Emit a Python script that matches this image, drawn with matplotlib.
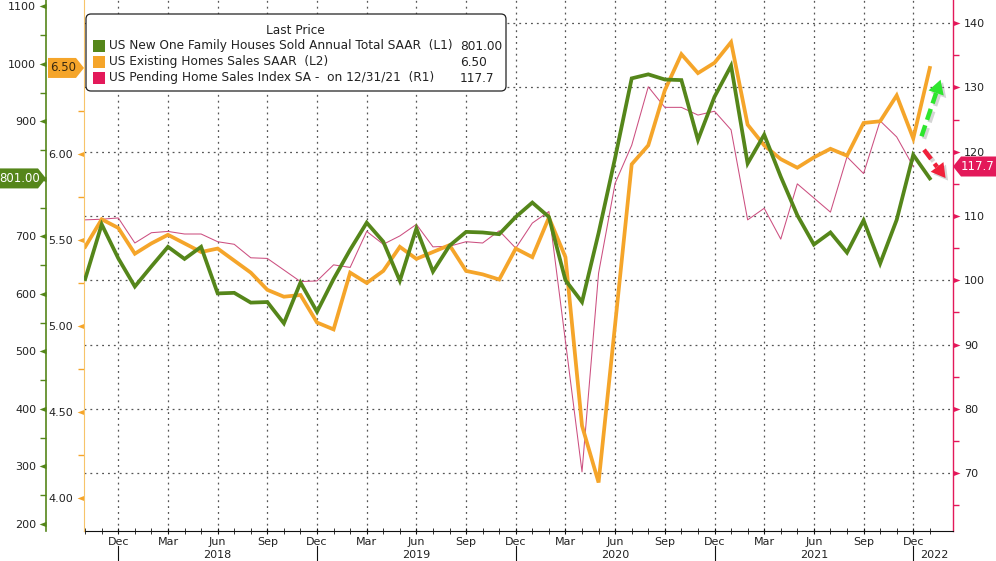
import numpy as np
import pandas as pd
import matplotlib
matplotlib.use("Agg")
import matplotlib.pyplot as plt
from matplotlib.path import Path
from matplotlib.patches import Polygon, FancyBboxPatch, Rectangle
from matplotlib.lines import Line2D
import matplotlib.transforms as mtransforms

# ---------------- data ----------------
months = pd.date_range("2017-10-01", periods=52, freq="MS")

new_home_sales = [626, 721, 662, 613, 648, 682, 661, 682, 601, 602, 585, 586,
                  549, 620, 569, 626, 677, 724, 691, 623, 714, 639, 684, 708,
                  707, 704, 734, 759, 734, 624, 586, 706, 837, 975, 982, 973,
                  972, 868, 943, 997, 827, 877, 804, 737, 686, 707, 672, 728,
                  653, 729, 842, 801]

existing_home_sales = [5.46, 5.62, 5.57, 5.42, 5.48, 5.53, 5.48, 5.43, 5.45, 5.38,
                       5.31, 5.21, 5.17, 5.18, 5.02, 4.98, 5.31, 5.25, 5.32, 5.46,
                       5.39, 5.43, 5.47, 5.32, 5.30, 5.27, 5.45, 5.40, 5.63, 5.40,
                       4.42, 4.09, 5.01, 5.94, 6.05, 6.37, 6.58, 6.47, 6.53, 6.65,
                       6.17, 6.05, 5.97, 5.92, 5.98, 6.03, 5.99, 6.18, 6.19, 6.34,
                       6.09, 6.50]

pending_home_sales = [109.4, 109.5, 109.7, 105.8, 107.4, 107.6, 107.2, 107.2, 106.0,
                      105.6, 103.5, 103.4, 101.6, 99.8, 99.9, 102.4, 102.0, 107.6,
                      105.6, 106.9, 108.7, 105.2, 105.3, 106.0, 105.8, 107.7, 105.0,
                      108.9, 110.7, 90.5, 70.2, 101.1, 115.1, 121.0, 130.1, 126.9,
                      126.9, 125.7, 126.3, 123.4, 109.4, 111.2, 106.4, 115.0, 112.8,
                      110.6, 119.2, 116.6, 124.8, 122.3, 117.7]

green_ticks = list(range(200, 1101, 100))
orange_ticks = [4.00, 4.50, 5.00, 5.50, 6.00]
pink_ticks = list(range(70, 141, 10))
month_names = {12: "Dec", 3: "Mar", 6: "Jun", 9: "Sep"}

legend_title = "Last Price"
legend_names = ["US New One Family Houses Sold Annual Total SAAR  (L1)",
                "US Existing Homes Sales SAAR  (L2)",
                "US Pending Home Sales Index SA -  on 12/31/21  (R1)"]
legend_values = ["801.00", "6.50", "117.7"]

# ---------------- style ----------------
GREEN = "#55861a"
ORANGE = "#f5a52a"
PINK = "#cc4f80"
RED = "#e3195a"
TXT = "#222222"
plt.rcParams["font.family"] = ["DejaVu Sans"]
plt.rcParams["font.size"] = 8

W, H = 996, 561
fig = plt.figure(figsize=(W / 100, H / 100), dpi=100, facecolor="white")
ax_p = fig.add_axes([84 / W, 30 / H, 869 / W, 531 / H])
ax_o = ax_p.twinx()
ax_g = ax_p.twinx()
ax_p.set_zorder(1)
ax_o.set_zorder(2)
ax_g.set_zorder(3)
for a in (ax_o, ax_g):
    a.patch.set_visible(False)

x = np.arange(len(months))
xp = np.arange(len(pending_home_sales))

ax_p.plot(xp, pending_home_sales, color=PINK, lw=0.75)
ax_o.plot(x, existing_home_sales, color=ORANGE, lw=2.7, solid_joinstyle="miter")
ax_g.plot(x, new_home_sales, color=GREEN, lw=2.7, solid_joinstyle="miter")

xmax = 52.4
ax_p.set_xlim(-0.07, xmax)
ax_p.set_ylim(61.0, 143.6)
ax_o.set_ylim(3.808, 6.895)
ax_g.set_ylim(187.8, 1111.3)

# spines
for s in ("top", "left"):
    ax_p.spines[s].set_visible(False)
ax_p.spines["right"].set_color(RED)
ax_p.spines["right"].set_linewidth(1.0)
ax_p.spines["bottom"].set_color("#111111")
for a in (ax_o, ax_g):
    for s in ("top", "right", "bottom"):
        a.spines[s].set_visible(False)
ax_o.spines["left"].set_color("#f7c46a")
ax_g.spines["left"].set_color(GREEN)
ax_g.spines["left"].set_linewidth(1.2)
g_off = -38 / 869
ax_g.spines["left"].set_position(("axes", g_off))

# y axes
ax_p.yaxis.tick_right()
ax_o.yaxis.tick_left()
ax_g.yaxis.tick_left()

ax_p.set_yticks(pink_ticks)
ax_p.set_yticks(np.arange(65, 141, 10), minor=True)
ax_o.set_yticks(orange_ticks)
ax_o.set_yticklabels([f"{v:.2f}" for v in orange_ticks])
ax_o.set_yticks(np.arange(4.25, 6.3, 0.5), minor=True)
ax_g.set_yticks(green_ticks)
# the 800 label sits under the last-value tag, as in the original
ax_g.set_yticklabels(["" if v == 800 else str(v) for v in green_ticks])
ax_g.set_yticks(np.arange(250, 1100, 100), minor=True)

ax_p.tick_params(axis="y", which="major", length=0, pad=8, labelsize=8, labelcolor=TXT)
ax_p.tick_params(axis="y", which="minor", length=4, color=RED, width=1)
ax_o.tick_params(axis="y", which="major", length=0, pad=8, labelsize=8, labelcolor=TXT)
ax_o.tick_params(axis="y", which="minor", length=4, color=ORANGE, width=1)
ax_g.tick_params(axis="y", which="major", length=0, pad=7, labelsize=8, labelcolor=TXT)
ax_g.tick_params(axis="y", which="minor", length=4, color=GREEN, width=1)

# triangle tick markers
left_tri = Path([(0, 0.38), (-1, 0), (0, -0.38), (0, 0.38)],
                [Path.MOVETO, Path.LINETO, Path.LINETO, Path.CLOSEPOLY])
right_tri = Path([(0, 0.38), (1, 0), (0, -0.38), (0, 0.38)],
                 [Path.MOVETO, Path.LINETO, Path.LINETO, Path.CLOSEPOLY])
tr_g = mtransforms.blended_transform_factory(ax_g.transAxes, ax_g.transData)
ax_g.plot([g_off] * len(green_ticks), green_ticks, ls="none", marker=left_tri,
          ms=10, color=GREEN, mec="none", transform=tr_g, clip_on=False)
tr_o = mtransforms.blended_transform_factory(ax_o.transAxes, ax_o.transData)
ax_o.plot([0] * len(orange_ticks), orange_ticks, ls="none", marker=left_tri,
          ms=10, color=ORANGE, mec="none", transform=tr_o, clip_on=False)
tr_p = mtransforms.blended_transform_factory(ax_p.transAxes, ax_p.transData)
ax_p.plot([1] * len(pink_ticks), pink_ticks, ls="none", marker=right_tri,
          ms=10, color=RED, mec="none", transform=tr_p, clip_on=False)

# x axis
major_pos = [i for i, m in enumerate(months) if m.month in month_names]
major_lab = [month_names[months[i].month] for i in major_pos]
ax_p.set_xticks(major_pos)
ax_p.set_xticklabels(major_lab)
ax_p.set_xticks(x, minor=True)
ax_p.tick_params(axis="x", which="major", direction="inout", length=5, pad=2,
                 labelsize=8, labelcolor=TXT, color="#111111")
ax_p.tick_params(axis="x", which="minor", direction="inout", length=4, color="#111111")

# grid
grid_kw = dict(color="#555555", lw=0.9, ls=(0, (1.5, 3.2)))
ax_p.grid(axis="y", which="major", **grid_kw)
ax_p.grid(axis="x", which="major", **grid_kw)

# year labels and separators
tr_x = mtransforms.blended_transform_factory(ax_p.transData, ax_p.transAxes)
for i, m in enumerate(months):
    if m.month == 12:
        ax_p.add_line(Line2D([i, i], [-15 / 531, -31 / 531], transform=tr_x,
                             color="#111111", lw=0.8, clip_on=False))
    if m.month == 6:
        ax_p.text(i, -23.5 / 531, str(m.year), transform=tr_x, ha="center",
                  va="center", fontsize=8, color=TXT)
last_dec = max(i for i, m in enumerate(months) if m.month == 12)
ax_p.text((last_dec + xmax) / 2 + 0.1, -23.5 / 531, str(months[-1].year), transform=tr_x,
          ha="center", va="center", fontsize=8, color=TXT)

fig.canvas.draw()
IDT = mtransforms.IdentityTransform()


def ypx(axis, value):
    return axis.transData.transform((0, value))[1]


def value_tag(x0, x1, tip, yc, color, text, tcolor, left_point=False):
    h = 10
    if left_point:
        verts = [(x1, yc - h), (x0 + 6, yc - h), (tip, yc), (x0 + 6, yc + h), (x1, yc + h)]
    else:
        verts = [(x0, yc - h), (x1 - 6, yc - h), (tip, yc), (x1 - 6, yc + h), (x0, yc + h)]
    fig.add_artist(Polygon(verts, closed=True, transform=IDT, fc=color, ec="none", zorder=20))
    cx = (x0 + x1) / 2 + (2 if left_point else -2)
    fig.text(cx / W, yc / H, text, ha="center", va="center", color=tcolor,
             fontsize=8.5, zorder=21)


value_tag(48, 82, 84, ypx(ax_o, existing_home_sales[-1]), ORANGE, legend_values[1], "#3a2a10")
value_tag(0, 44, 46, ypx(ax_g, new_home_sales[-1]), GREEN, legend_values[0], "white")
value_tag(955, 996, 953, ypx(ax_p, pending_home_sales[-1]), RED, legend_values[2], "white",
          left_point=True)


# dashed arrows
def dashed_arrow(p0, p1, color):
    (x0, y0), (x1, y1) = ax_p.transData.transform(p0), ax_p.transData.transform(p1)
    d = np.array([x1 - x0, y1 - y0])
    L = np.hypot(*d)
    u = d / L
    n = np.array([-u[1], u[0]])
    hl, hw = 14, 8
    base = np.array([x1, y1]) - u * hl
    for off, col, al in (((2.5, -2.5), "#888888", 0.35), ((0, 0), color, 1.0)):
        o = np.array(off)
        fig.add_artist(Line2D([x0 + o[0], base[0] + o[0]], [y0 + o[1], base[1] + o[1]],
                              transform=IDT, color=col, alpha=al, lw=3.2,
                              dashes=(2.6, 1.3), zorder=18))
        head = [base + n * hw + o, np.array([x1, y1]) + o, base - n * hw + o]
        fig.add_artist(Polygon(head, closed=True, transform=IDT, fc=col, ec="none",
                               alpha=al, zorder=18))


dashed_arrow((50.5, 122.4), (51.65, 131.2), "#2ee62e")
dashed_arrow((50.65, 120.3), (51.95, 115.9), "#f0203a")

# legend box
def ytop(v):
    return H - v

fig.add_artist(FancyBboxPatch((86, ytop(91)), 420, 77, boxstyle="round,pad=0,rounding_size=5",
                              transform=IDT, fc="white", ec="#222222", lw=0.9, zorder=30))
fig.text(295 / W, ytop(30) / H, legend_title, ha="center", va="center", fontsize=8.7,
         color=TXT, zorder=31)
sq_colors = [GREEN, ORANGE, RED]
for k, (name, val, c) in enumerate(zip(legend_names, legend_values, sq_colors)):
    yr = 46 + 16 * k
    fig.add_artist(Rectangle((93, ytop(yr) - 6), 12, 12, transform=IDT, fc=c, ec="none",
                             zorder=31))
    fig.text(109 / W, ytop(yr) / H, name, ha="left", va="center", fontsize=8.7,
             color=TXT, zorder=31)
    fig.text(460 / W, ytop(yr) / H, val, ha="left", va="center", fontsize=8.7,
             color=TXT, zorder=31)

fig.savefig("out.png", dpi=100, facecolor="white")
